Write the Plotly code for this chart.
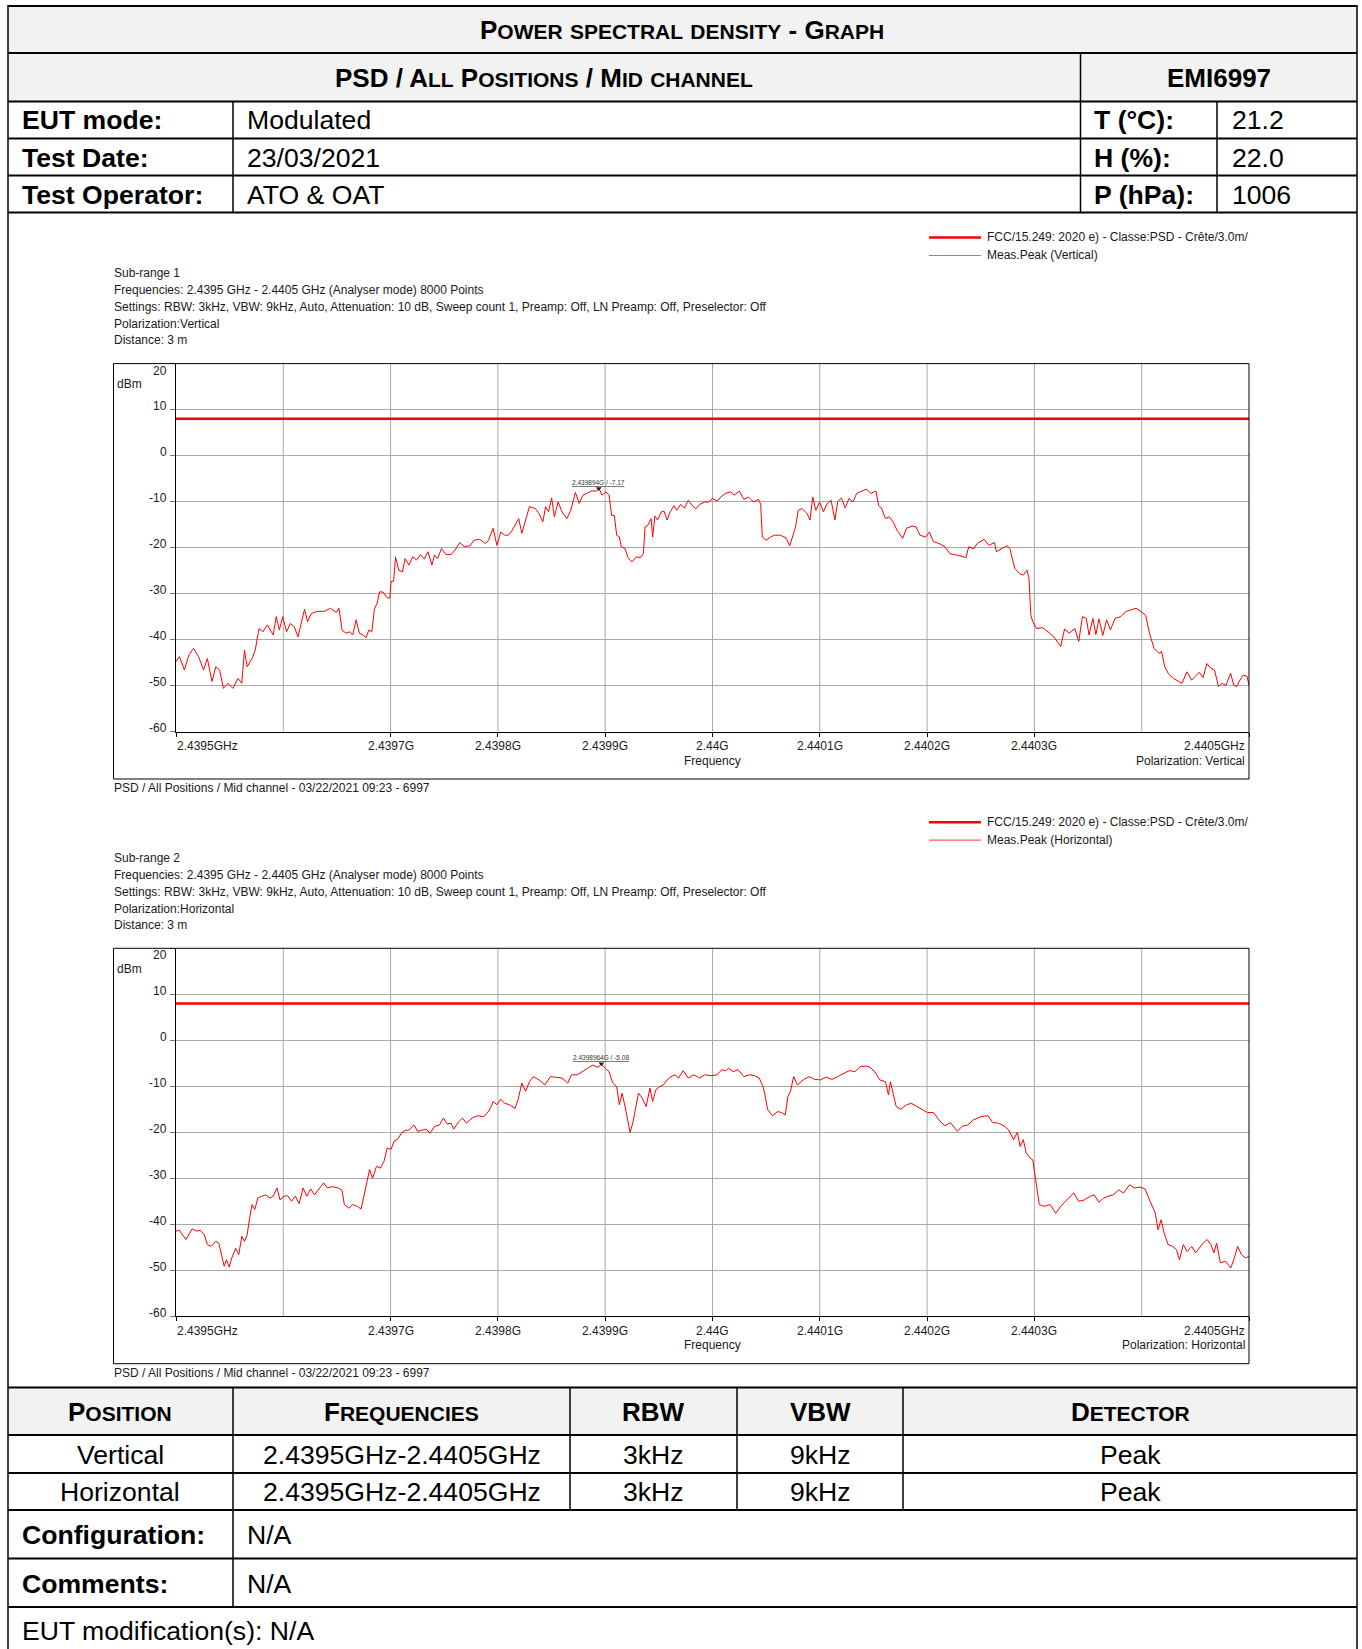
import plotly.graph_objects as go

W, H = 1362, 1649
F0, F1 = 2.4395, 2.4405  # GHz

# ---------------- data ----------------
# Vertical polarization (offset from 2.4395 GHz in kHz, level in dBm)
v_offset_khz_a = [0, 3.2, 7.8, 12.1, 16.4, 21.0, 25.7, 29.2, 33.5, 37.1,
                  40.6, 44.2, 48.5, 53.1, 57.7, 61.3, 63.8, 66.3, 70.9, 73.8,
                  77.4, 80.9, 85.2, 90.6, 93.4, 96.3, 99.5, 103.0, 106.6, 110.2,
                  113.7, 117.3, 119.8, 122.6, 126.2, 131.5, 138.7, 144.0, 149.4, 151.9,
                  154.7, 158.3, 161.9, 164.7, 167.9, 170.8, 174.3, 177.2, 179.7, 182.5,
                  185.0, 187.5, 189.7, 193.2, 196.8, 199.3, 200.4, 202.8, 204.6, 207.5,
                  211.0, 213.5, 217.1, 220.7, 224.2, 227.8, 231.4, 234.9, 238.5, 241.0,
                  243.8, 247.4, 251.7, 256.3, 259.9, 264.5, 268.8, 274.1, 277.7, 283.1,
                  288.4, 291.3, 295.5, 299.1, 302.7, 306.2, 309.8, 313.4, 315.9, 319.4,
                  322.3, 325.1, 329.4, 334.8, 338.3, 341.9, 344.4, 347.2, 350.1, 352.6,
                  356.1, 359.7, 364.3, 367.9, 369.7, 372.2, 375.8, 379.3, 382.9, 387.2,
                  391.8, 394.3, 397.1, 400.7, 403.6, 406.0, 408.5, 410.7, 413.2, 415.0,
                  418.5, 421.4, 424.9, 429.2, 432.8, 435.6, 437.1, 439.9, 442.8, 444.2,
                  446.3, 448.8, 452.4, 454.9, 457.7, 460.6, 464.2, 466.7, 470.2, 473.8,
                  477.4, 480.9, 484.5, 488.1, 492.7]
v_level_dbm_a = [-44.8, -43.7, -46.6, -43.3, -41.9, -43.7, -46.6, -44.1, -49.1, -45.9,
                 -46.6, -50.6, -49.5, -50.6, -48.4, -49.5, -42.3, -45.9, -44.1, -42.3,
                 -37.6, -38.3, -36.8, -39.0, -35.0, -37.9, -35.0, -38.3, -36.5, -37.2,
                 -39.4, -35.4, -33.4, -36.1, -34.3, -33.9, -33.8, -33.2, -34.1, -33.2,
                 -37.9, -38.6, -38.3, -39.0, -35.7, -38.6, -39.0, -39.6, -37.9, -38.3,
                 -33.2, -32.1, -29.6, -29.7, -30.9, -31.0, -27.4, -27.3, -22.0, -24.9,
                 -25.3, -22.4, -23.8, -22.0, -22.7, -21.5, -22.5, -20.9, -23.8, -21.6,
                 -22.4, -20.2, -21.5, -21.5, -20.6, -18.9, -19.8, -19.6, -18.4, -18.2,
                 -19.1, -18.4, -15.8, -19.5, -16.6, -17.3, -17.3, -16.2, -15.1, -13.7,
                 -16.9, -14.4, -11.1, -11.5, -12.6, -14.4, -11.1, -12.2, -9.2, -13.3,
                 -10.1, -12.2, -13.7, -11.9, -10.1, -8.0, -10.4, -8.6, -8.2, -7.7,
                 -7.7, -7.17, -8.6, -7.9, -8.6, -13.0, -13.0, -17.3, -17.7, -19.8,
                 -20.2, -22.2, -23.1, -22.0, -22.2, -21.3, -15.5, -15.1, -13.7, -17.7,
                 -13.1, -14.0, -12.2, -12.1, -14.0, -12.2, -10.9, -11.9, -10.6, -11.4,
                 -9.7, -10.8, -11.6, -10.6, -10.1]
v_offset_khz_b = [496.4, 500.0, 504.3, 507.8, 512.1, 516.8, 520.3, 525.0, 529.2, 533.5,
                  538.2, 542.8, 544.9, 546.4, 549.9, 554.2, 557.8, 563.1, 568.5, 572.0,
                  574.9, 577.4, 579.9, 583.4, 588.1, 590.9, 593.4, 596.3, 599.8, 603.4,
                  607.0, 610.5, 614.1, 616.6, 620.2, 623.7, 627.3, 630.9, 634.4, 638.0,
                  643.4, 647.6, 652.3, 654.8, 657.6, 661.2, 664.7, 668.3, 671.9, 677.2,
                  680.8, 686.1, 689.7, 693.3, 698.6, 702.2, 705.8, 711.1, 716.5, 721.1,
                  725.4, 730.7, 736.1, 738.9, 743.2, 746.8, 753.2, 757.5, 762.8, 764.6,
                  769.9, 774.6, 777.1, 778.9, 781.7, 786.0, 789.6, 793.1, 794.9, 796.7,
                  798.5, 802.0, 807.4, 812.7, 818.1, 824.5, 828.1, 832.4, 837.7, 841.3,
                  844.8, 848.4, 850.9, 854.5, 857.3, 860.2, 863.7, 867.3, 870.9, 875.1,
                  880.5, 885.1, 890.1, 894.8, 899.4, 903.7, 907.2, 911.5, 916.1, 918.6,
                  921.5, 925.1, 929.3, 934.0, 937.5, 942.2, 946.5, 950.0, 953.6, 957.2,
                  960.7, 964.3, 967.9, 971.5, 975.0, 978.6, 982.9, 985.7, 988.6, 991.1,
                  994.6, 998.2, 1000.0]
v_level_dbm_b = [-10.1, -9.3, -9.9, -9.0, -8.2, -7.9, -8.6, -7.7, -9.5, -9.0,
                 -10.1, -9.5, -10.6, -17.7, -18.4, -17.7, -17.3, -17.3, -17.9, -19.6,
                 -17.3, -15.5, -11.9, -11.5, -12.6, -14.0, -9.0, -11.9, -10.1, -12.2,
                 -10.4, -9.7, -14.0, -10.1, -9.2, -11.4, -9.3, -10.1, -8.2, -7.9,
                 -7.3, -8.2, -7.7, -10.8, -11.5, -13.7, -13.3, -14.4, -16.2, -18.0,
                 -15.8, -15.3, -15.5, -17.3, -17.7, -16.6, -18.7, -19.1, -19.8, -21.3,
                 -21.5, -21.8, -22.2, -19.8, -20.3, -19.1, -18.2, -19.5, -18.9, -20.9,
                 -20.2, -19.6, -20.2, -22.0, -24.5, -25.6, -26.0, -24.9, -26.6, -34.7,
                 -36.1, -37.6, -37.4, -38.3, -39.4, -41.5, -37.7, -38.6, -37.6, -40.4,
                 -35.0, -35.4, -39.0, -35.4, -38.9, -35.5, -39.1, -35.7, -37.9, -35.4,
                 -35.0, -33.9, -33.6, -33.2, -33.9, -34.7, -38.6, -41.9, -43.0, -42.6,
                 -45.9, -47.5, -48.4, -49.1, -49.5, -47.0, -48.8, -48.0, -47.1, -48.3,
                 -45.2, -46.2, -46.6, -50.2, -49.5, -49.9, -47.3, -49.9, -50.2, -49.0,
                 -47.7, -48.0, -50.0]

# Horizontal polarization
h_offset_khz_a = [0, 3.2, 6.8, 9.3, 12.8, 15.0, 19.3, 22.8, 26.4, 29.2,
                  32.8, 37.1, 39.9, 42.4, 44.9, 47.1, 49.6, 52.0, 55.6, 58.5,
                  61.3, 63.8, 66.3, 68.4, 70.9, 73.4, 76.3, 79.9, 83.4, 87.7,
                  90.6, 94.1, 97.0, 100.5, 104.1, 107.7, 111.2, 114.8, 118.4, 121.9,
                  125.5, 129.1, 132.6, 137.6, 141.2, 145.8, 151.2, 154.7, 156.9, 161.1,
                  164.7, 169.0, 172.5, 176.1, 178.3, 180.4, 183.2, 186.8, 190.4, 193.9,
                  196.8, 200.4, 203.6, 206.4, 210.0, 213.5, 217.1, 221.7, 225.3, 229.6,
                  233.2, 236.7, 241.0, 245.6, 249.2, 252.8, 256.3, 258.8, 263.5, 267.0,
                  270.6, 275.9, 281.3, 286.6, 290.2, 293.8, 295.5, 299.1, 302.7, 306.2,
                  310.9, 315.9, 318.7, 322.3, 325.8, 329.4, 333.0, 338.3, 343.7, 349.0,
                  354.4, 359.7, 365.1, 368.6, 374.0, 377.5, 382.9, 388.2, 393.6, 396.4,
                  400.0, 403.6, 407.1, 410.7, 413.2, 415.7, 418.5, 421.0, 423.2, 425.7,
                  428.5, 431.0, 434.6, 438.1, 441.7, 444.2, 447.1, 450.6, 454.2, 457.7,
                  461.3, 464.9, 468.4, 472.7, 477.4, 482.7, 488.1, 492.7]
h_level_dbm_a = [-41.5, -41.3, -42.5, -43.3, -41.9, -41.0, -41.5, -41.3, -42.3, -44.4,
                 -44.8, -43.7, -44.1, -46.6, -49.1, -47.7, -49.3, -47.3, -45.2, -46.6,
                 -42.6, -43.7, -42.3, -39.0, -35.7, -36.8, -34.3, -33.9, -33.6, -34.3,
                 -33.9, -32.1, -34.7, -33.9, -33.8, -35.0, -33.9, -35.5, -32.1, -33.9,
                 -32.3, -33.6, -32.5, -31.0, -32.1, -31.8, -32.1, -32.6, -35.7, -36.5,
                 -35.7, -36.1, -36.7, -32.5, -30.3, -28.1, -30.0, -27.4, -27.8, -26.3,
                 -23.4, -23.7, -21.8, -21.6, -20.2, -19.6, -19.5, -18.4, -19.8, -19.5,
                 -19.3, -20.2, -18.7, -18.4, -16.9, -18.2, -18.0, -19.3, -17.7, -16.9,
                 -18.0, -16.9, -16.4, -16.6, -15.8, -14.4, -13.3, -14.0, -12.8, -13.7,
                 -14.0, -14.8, -13.0, -9.3, -11.1, -9.0, -7.9, -8.6, -9.7, -7.9,
                 -8.0, -8.2, -9.3, -7.5, -7.5, -7.0, -6.1, -5.4, -5.9, -5.08,
                 -6.1, -6.8, -9.3, -10.1, -14.0, -11.5, -14.4, -17.7, -20.0, -18.0,
                 -14.4, -11.5, -12.6, -14.4, -10.4, -13.3, -10.8, -10.1, -9.7, -8.6,
                 -7.9, -7.5, -8.2, -6.6, -8.2, -7.5, -8.2, -7.5]
h_offset_khz_b = [498.9, 504.3, 508.6, 512.1, 515.0, 519.3, 523.9, 529.2, 534.6, 539.2,
                  543.5, 547.1, 548.9, 551.4, 556.0, 560.6, 564.2, 567.8, 570.3, 572.7,
                  575.6, 579.2, 584.5, 589.9, 595.2, 600.6, 605.9, 611.3, 616.6, 622.0,
                  627.3, 632.7, 638.0, 643.4, 646.9, 651.2, 655.8, 661.2, 664.0, 665.8,
                  669.0, 671.2, 675.4, 680.8, 685.4, 689.7, 695.1, 700.4, 705.8, 711.1,
                  716.5, 721.8, 728.2, 732.5, 737.8, 743.2, 750.3, 756.8, 761.1, 766.4,
                  771.7, 776.0, 780.6, 784.2, 786.7, 789.6, 792.4, 796.0, 798.5, 800.3,
                  802.0, 804.5, 809.2, 814.6, 819.9, 824.5, 828.8, 834.2, 836.7, 841.3,
                  846.7, 852.0, 855.6, 860.2, 864.5, 868.8, 873.4, 878.8, 883.1, 888.8,
                  893.1, 898.4, 903.1, 906.6, 910.2, 912.7, 915.2, 918.1, 920.9, 924.5,
                  928.8, 932.3, 935.2, 938.8, 942.3, 946.6, 950.2, 954.4, 957.3, 960.9,
                  964.4, 967.3, 969.8, 973.3, 978.0, 983.0, 985.8, 989.4, 993.0, 996.5,
                  1000.0]
h_level_dbm_b = [-7.7, -7.5, -6.4, -6.6, -6.1, -6.8, -6.4, -7.9, -7.5, -7.7,
                 -8.2, -10.1, -11.9, -15.1, -16.4, -15.5, -15.7, -16.2, -12.2, -11.1,
                 -7.9, -9.7, -8.6, -7.9, -8.5, -8.6, -8.0, -8.5, -7.9, -7.2,
                 -6.6, -6.8, -5.7, -5.6, -5.9, -6.8, -8.6, -9.0, -11.9, -9.0,
                 -12.2, -14.4, -15.0, -14.0, -13.7, -14.3, -15.0, -15.7, -15.7, -17.3,
                 -18.6, -17.9, -19.8, -18.7, -18.4, -17.3, -16.6, -16.4, -17.9, -18.0,
                 -18.6, -19.5, -21.6, -20.0, -23.1, -21.6, -24.5, -25.6, -26.0, -29.2,
                 -32.5, -35.7, -36.1, -35.7, -37.6, -36.1, -35.0, -33.9, -33.2, -35.0,
                 -34.7, -33.9, -33.6, -35.2, -34.3, -33.9, -33.6, -32.5, -33.2, -31.4,
                 -32.1, -31.9, -32.3, -34.3, -36.5, -37.6, -41.2, -39.0, -41.9, -44.4,
                 -44.8, -45.5, -47.7, -44.4, -45.9, -44.8, -46.2, -44.8, -44.1, -43.3,
                 -44.4, -46.2, -44.1, -48.4, -48.0, -49.5, -47.7, -44.8, -46.6, -47.3,
                 -47.0]

limit_dbm = 8.0
v_peak_ghz, v_peak_dbm, v_peak_label = 2.439894, -7.17, "2.439894G / -7.17"
h_peak_ghz, h_peak_dbm, h_peak_label = 2.4398964, -5.08, "2.4398964G / -5.08"

x_grid_ghz = [2.4396, 2.4397, 2.4398, 2.4399, 2.4400, 2.4401, 2.4402, 2.4403, 2.4404]
x_tick_ghz = [2.4395, 2.4397, 2.4398, 2.4399, 2.4400, 2.4401, 2.4402, 2.4403, 2.4405]
x_tick_text = ["2.4395GHz", "2.4397G", "2.4398G", "2.4399G", "2.44G",
               "2.4401G", "2.4402G", "2.4403G", "2.4405GHz"]
y_tick_dbm = [20, 10, 0, -10, -20, -30, -40, -50, -60]

# ---------------- helpers ----------------
FONT = "Liberation Sans, Arial, sans-serif"
shapes, annotations = [], []


def px(x):
    return x / W


def py(y):
    return 1 - y / H


def hline(y, x0, x1, w=2.0, color="black"):
    shapes.append(dict(type="line", xref="paper", yref="paper", x0=px(x0), x1=px(x1),
                       y0=py(y), y1=py(y), line=dict(color=color, width=w)))


def vline(x, y0, y1, w=1.5, color="black"):
    shapes.append(dict(type="line", xref="paper", yref="paper", x0=px(x), x1=px(x),
                       y0=py(y0), y1=py(y1), line=dict(color=color, width=w)))


def rect(x0, y0, x1, y1, fill=None, line_color=None, lw=1):
    shapes.append(dict(type="rect", xref="paper", yref="paper", x0=px(x0), x1=px(x1),
                       y0=py(y1), y1=py(y0), fillcolor=fill if fill else "rgba(0,0,0,0)",
                       line=dict(color=line_color if line_color else "rgba(0,0,0,0)", width=lw),
                       layer="below"))


def text(x, y, s, size, anchor="left", color="#000"):
    annotations.append(dict(xref="paper", yref="paper", x=px(x), y=py(y), text=s,
                            showarrow=False, xanchor=anchor, yanchor="middle",
                            borderpad=0, font=dict(family=FONT, size=size, color=color)))


def small_caps(s, small=21):
    out, run = "", ""
    for ch in s:
        if ch.islower():
            run += ch.upper()
        else:
            if run:
                out += f'<span style="font-size:{small}px">{run}</span>'
                run = ""
            out += ch
    if run:
        out += f'<span style="font-size:{small}px">{run}</span>'
    return f"<b>{out}</b>"


# ---------------- tables ----------------
L, R = 8, 1357
TS = 26
TSR = 26.6
rect(L, 6, R, 101.5, fill="#f2f2f2")
rect(L, 1387.5, R, 1435, fill="#f2f2f2")
for yy in [6, 53, 101.5, 138.5, 175.5, 212.5, 1387.5, 1435, 1473, 1510, 1558.5, 1607]:
    hline(yy, L, R, 2.2)
vline(L, 5, 1660)
vline(R, 5, 1660)
vline(1080.5, 53, 212.5)
vline(233, 101.5, 212.5)
vline(1217, 101.5, 212.5)
vline(233, 1387.5, 1607)
for xx in [570, 737, 903]:
    vline(xx, 1387.5, 1510)

text(682.5, 30, small_caps("Power spectral density - Graph"), TS, "center")
text(544, 77.5, small_caps("PSD / All Positions / Mid channel"), TS, "center")
text(1219, 77.5, "<b>EMI6997</b>", TS, "center")
rows_top = [("EUT mode:", "Modulated", "T (°C):", "21.2", 120.5),
            ("Test Date:", "23/03/2021", "H (%):", "22.0", 157.5),
            ("Test Operator:", "ATO & OAT", "P (hPa):", "1006", 194.5)]
for lab, val, lab2, val2, yy in rows_top:
    text(21, yy, f"<b>{lab}</b>", TSR)
    text(246, yy, val, TSR)
    text(1093, yy, f"<b>{lab2}</b>", TSR)
    text(1231, yy, val2, TSR)

col_centers = [120.5, 401.5, 653.5, 820, 1130]
headers = ["Position", "Frequencies", "RBW", "VBW", "Detector"]
for cx, hd in zip(col_centers, headers):
    text(cx, 1412, small_caps(hd), TS, "center")
bottom_rows = [["Vertical", "2.4395GHz-2.4405GHz", "3kHz", "9kHz", "Peak"],
               ["Horizontal", "2.4395GHz-2.4405GHz", "3kHz", "9kHz", "Peak"]]
for yy, row in zip([1455, 1492], bottom_rows):
    for cx, cell in zip(col_centers, row):
        text(cx, yy, cell, TSR, "center")
text(21, 1535, "<b>Configuration:</b>", TSR)
text(246, 1535, "N/A", TSR)
text(21, 1583.5, "<b>Comments:</b>", TSR)
text(246, 1583.5, "N/A", TSR)
text(21, 1631, "EUT modification(s): N/A", TSR)

# ---------------- charts ----------------
CF = 12
AXF = 12
TXT = "#1a1a1a"
GRID = "#a9a9a9"
fig = go.Figure()
layout_axes = {}

panels = [
    dict(dy=0.0, khz=v_offset_khz_a + v_offset_khz_b, dbm=v_level_dbm_a + v_level_dbm_b,
         peak=(v_peak_ghz, v_peak_dbm, v_peak_label), pol="Vertical", sub="Sub-range 1"),
    dict(dy=584.7, khz=h_offset_khz_a + h_offset_khz_b, dbm=h_level_dbm_a + h_level_dbm_b,
         peak=(h_peak_ghz, h_peak_dbm, h_peak_label), pol="Horizontal", sub="Sub-range 2"),
]

for i, p in enumerate(panels, start=1):
    dy = p["dy"]
    xn = "x" if i == 1 else f"x{i}"
    yn = "y" if i == 1 else f"y{i}"
    xk = "xaxis" if i == 1 else f"xaxis{i}"
    yk = "yaxis" if i == 1 else f"yaxis{i}"
    top, bot = 363.6 + dy, 731.6 + dy
    layout_axes[xk] = dict(domain=[px(176), px(1249)], range=[F0, F1], anchor=yn,
                           showgrid=False, zeroline=False, showline=True, linecolor="black",
                           linewidth=1, ticks="outside", tickvals=x_tick_ghz, ticklen=4,
                           tickcolor="black", showticklabels=False, fixedrange=True)
    layout_axes[yk] = dict(domain=[py(bot), py(top)], range=[-60, 20], anchor=xn,
                           showgrid=True, gridcolor=GRID, gridwidth=1, zeroline=False,
                           showline=True, linecolor="black", linewidth=1, ticks="outside",
                           tickvals=y_tick_dbm, ticklen=5, tickcolor="#777",
                           showticklabels=False, fixedrange=True)
    # vertical grid lines
    for g in x_grid_ghz:
        shapes.append(dict(type="line", xref=xn, yref=f"{yn} domain", x0=g, x1=g, y0=0, y1=1,
                           line=dict(color=GRID, width=1), layer="below"))
    # frame
    shapes.append(dict(type="rect", xref="paper", yref="paper", x0=px(113.5), x1=px(1249),
                       y0=py(779 + dy), y1=py(363.6 + dy), line=dict(color="black", width=1),
                       fillcolor="rgba(0,0,0,0)", layer="above"))
    # traces
    fig.add_trace(go.Scatter(x=[F0, F1], y=[limit_dbm, limit_dbm], mode="lines",
                             line=dict(color="#ff0000", width=2.6), xaxis=xn, yaxis=yn,
                             hoverinfo="skip"))
    fig.add_trace(go.Scatter(x=[F0 + k * 1e-6 for k in p["khz"]], y=p["dbm"], mode="lines",
                             line=dict(color="#ff0000", width=1), xaxis=xn, yaxis=yn,
                             hoverinfo="skip"))
    pk_x, pk_y, pk_lab = p["peak"]
    fig.add_trace(go.Scatter(x=[pk_x], y=[pk_y], mode="markers",
                             marker=dict(symbol="triangle-down", size=5, color="#222"),
                             xaxis=xn, yaxis=yn, hoverinfo="skip"))
    annotations.append(dict(xref=xn, yref=yn, x=pk_x, y=pk_y, yshift=2, text=f"<u>{pk_lab}</u>",
                            showarrow=False, xanchor="center", yanchor="bottom", borderpad=0,
                            font=dict(family=FONT, size=6.5, color="#333")))
    # y tick labels
    for v in y_tick_dbm:
        annotations.append(dict(xref="paper", yref=yn, x=px(168), y=v,
                                yshift=(-7 if v == 20 else 3.5), text=str(v), showarrow=False,
                                xanchor="right", yanchor="middle", borderpad=0,
                                font=dict(family=FONT, size=AXF, color=TXT)))
    text(116, 384 + dy, "dBm", AXF, color=TXT)
    # x tick labels
    for j, (v, s) in enumerate(zip(x_tick_ghz, x_tick_text)):
        anc = "left" if j == 0 else ("right" if j == len(x_tick_ghz) - 1 else "center")
        annotations.append(dict(xref=xn, yref="paper", x=v, y=py(746 + dy), text=s,
                                xshift=(-3.5 if anc == "right" else 0), showarrow=False,
                                xanchor=anc, yanchor="middle", borderpad=0,
                                font=dict(family=FONT, size=AXF, color=TXT)))
    annotations.append(dict(xref=xn, yref="paper", x=2.44, y=py(760.5 + dy), text="Frequency",
                            showarrow=False, xanchor="center", yanchor="middle", borderpad=0,
                            font=dict(family=FONT, size=AXF, color=TXT)))
    text(1245.5, 760.5 + dy, f"Polarization: {p['pol']}", AXF, "right", TXT)
    text(113, 788 + dy, "PSD / All Positions / Mid channel - 03/22/2021 09:23 - 6997", CF, color=TXT)
    # settings text
    lines = [p["sub"],
             "Frequencies: 2.4395 GHz - 2.4405 GHz (Analyser mode) 8000 Points",
             "Settings: RBW: 3kHz, VBW: 9kHz, Auto, Attenuation: 10 dB, Sweep count 1, "
             "Preamp: Off, LN Preamp: Off, Preselector: Off",
             f"Polarization:{p['pol']}",
             "Distance: 3 m"]
    for yy, s in zip([273.4, 290.2, 307.0, 323.8, 339.8], lines):
        text(113, yy + dy, s, CF, color=TXT)
    # legend
    hline(237.5 + dy, 929, 981, 2.6, "#ff0000")
    hline(255.5 + dy, 929, 981, 1.2, "#ff5a5a")
    text(986, 237 + dy, "FCC/15.249: 2020 e) - Classe:PSD - Crête/3.0m/", CF, color=TXT)
    text(986, 255 + dy, f"Meas.Peak ({p['pol']})", CF, color=TXT)

fig.update_layout(width=W, height=H, autosize=False,
                  margin=dict(l=0, r=0, t=0, b=0, pad=0),
                  paper_bgcolor="white", plot_bgcolor="white", showlegend=False,
                  shapes=shapes, annotations=annotations, **layout_axes)

fig.write_html("out.html", config={"displayModeBar": False, "staticPlot": True},
               post_script="document.body.style.margin='0px';")
